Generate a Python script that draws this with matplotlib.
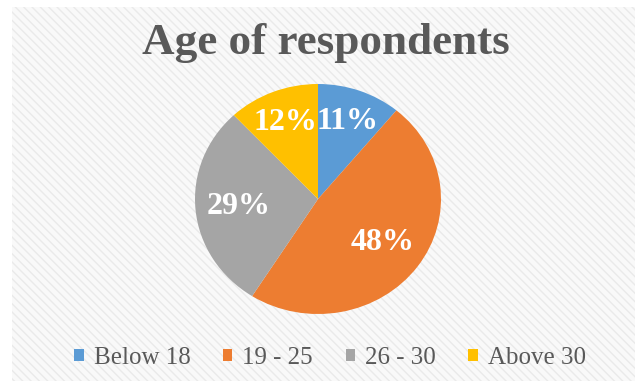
import matplotlib.pyplot as plt
from matplotlib.patches import Patch, Rectangle

labels = ["Below 18", "19 - 25", "26 - 30", "Above 30"]
shares = [11, 48, 29, 12]
colors = ["#5B9BD5", "#ED7D31", "#A5A5A5", "#FFC000"]

W, H = 635, 381
fig = plt.figure(figsize=(W / 100, H / 100), dpi=100)
fig.patch.set_facecolor("white")

# light striped chart background
plt.rcParams["hatch.linewidth"] = 1.0
bg = Rectangle((12 / W, 0), 1 - 12 / W, 1 - 7 / H, transform=fig.transFigure,
               facecolor="#F9F9F9", edgecolor="#EAEAEA", linewidth=0,
               hatch="\\\\\\\\", zorder=-5)
fig.patches.append(bg)

# pie: center (318,199) px, rx 123, ry 115
cx, cy, rx, ry = 318, 199, 123, 115
ax = fig.add_axes([(cx - rx) / W, (H - cy - ry) / H, 2 * rx / W, 2 * ry / H])
ax.set_zorder(2)
wedges, texts, autotexts = ax.pie(
    shares, colors=colors, startangle=90, counterclock=False,
    autopct=lambda p: f"{p:.0f}%", pctdistance=0.65,
    wedgeprops=dict(edgecolor="none"),
    textprops=dict(color="white", fontsize=23, fontweight="bold",
                   family="Liberation Serif"))
# small slices get their labels pushed a bit further out
for t, s in zip(autotexts, shares):
    if s < 20:
        x, y = t.get_position()
        t.set_position((x * 1.1, y * 1.1))
ax.set_aspect("auto")
ax.set_xlim(-1, 1)
ax.set_ylim(-1, 1)
ax.axis("off")

fig.text(326 / W, 1 - 43 / H, "Age of respondents", ha="center", va="center",
         fontsize=32.5, fontweight="bold", color="#595959", family="Liberation Serif")

handles = [Patch(facecolor=c, edgecolor="none") for c in colors]
fig.legend(handles, labels, loc="center", bbox_to_anchor=(330 / W, 23 / H),
           ncol=4, frameon=False, handlelength=0.38, handleheight=0.38,
           handletextpad=0.4, columnspacing=1.3,
           prop=dict(family="Liberation Serif", size=18), labelcolor="#595959")

fig.savefig("out.png", dpi=100)
